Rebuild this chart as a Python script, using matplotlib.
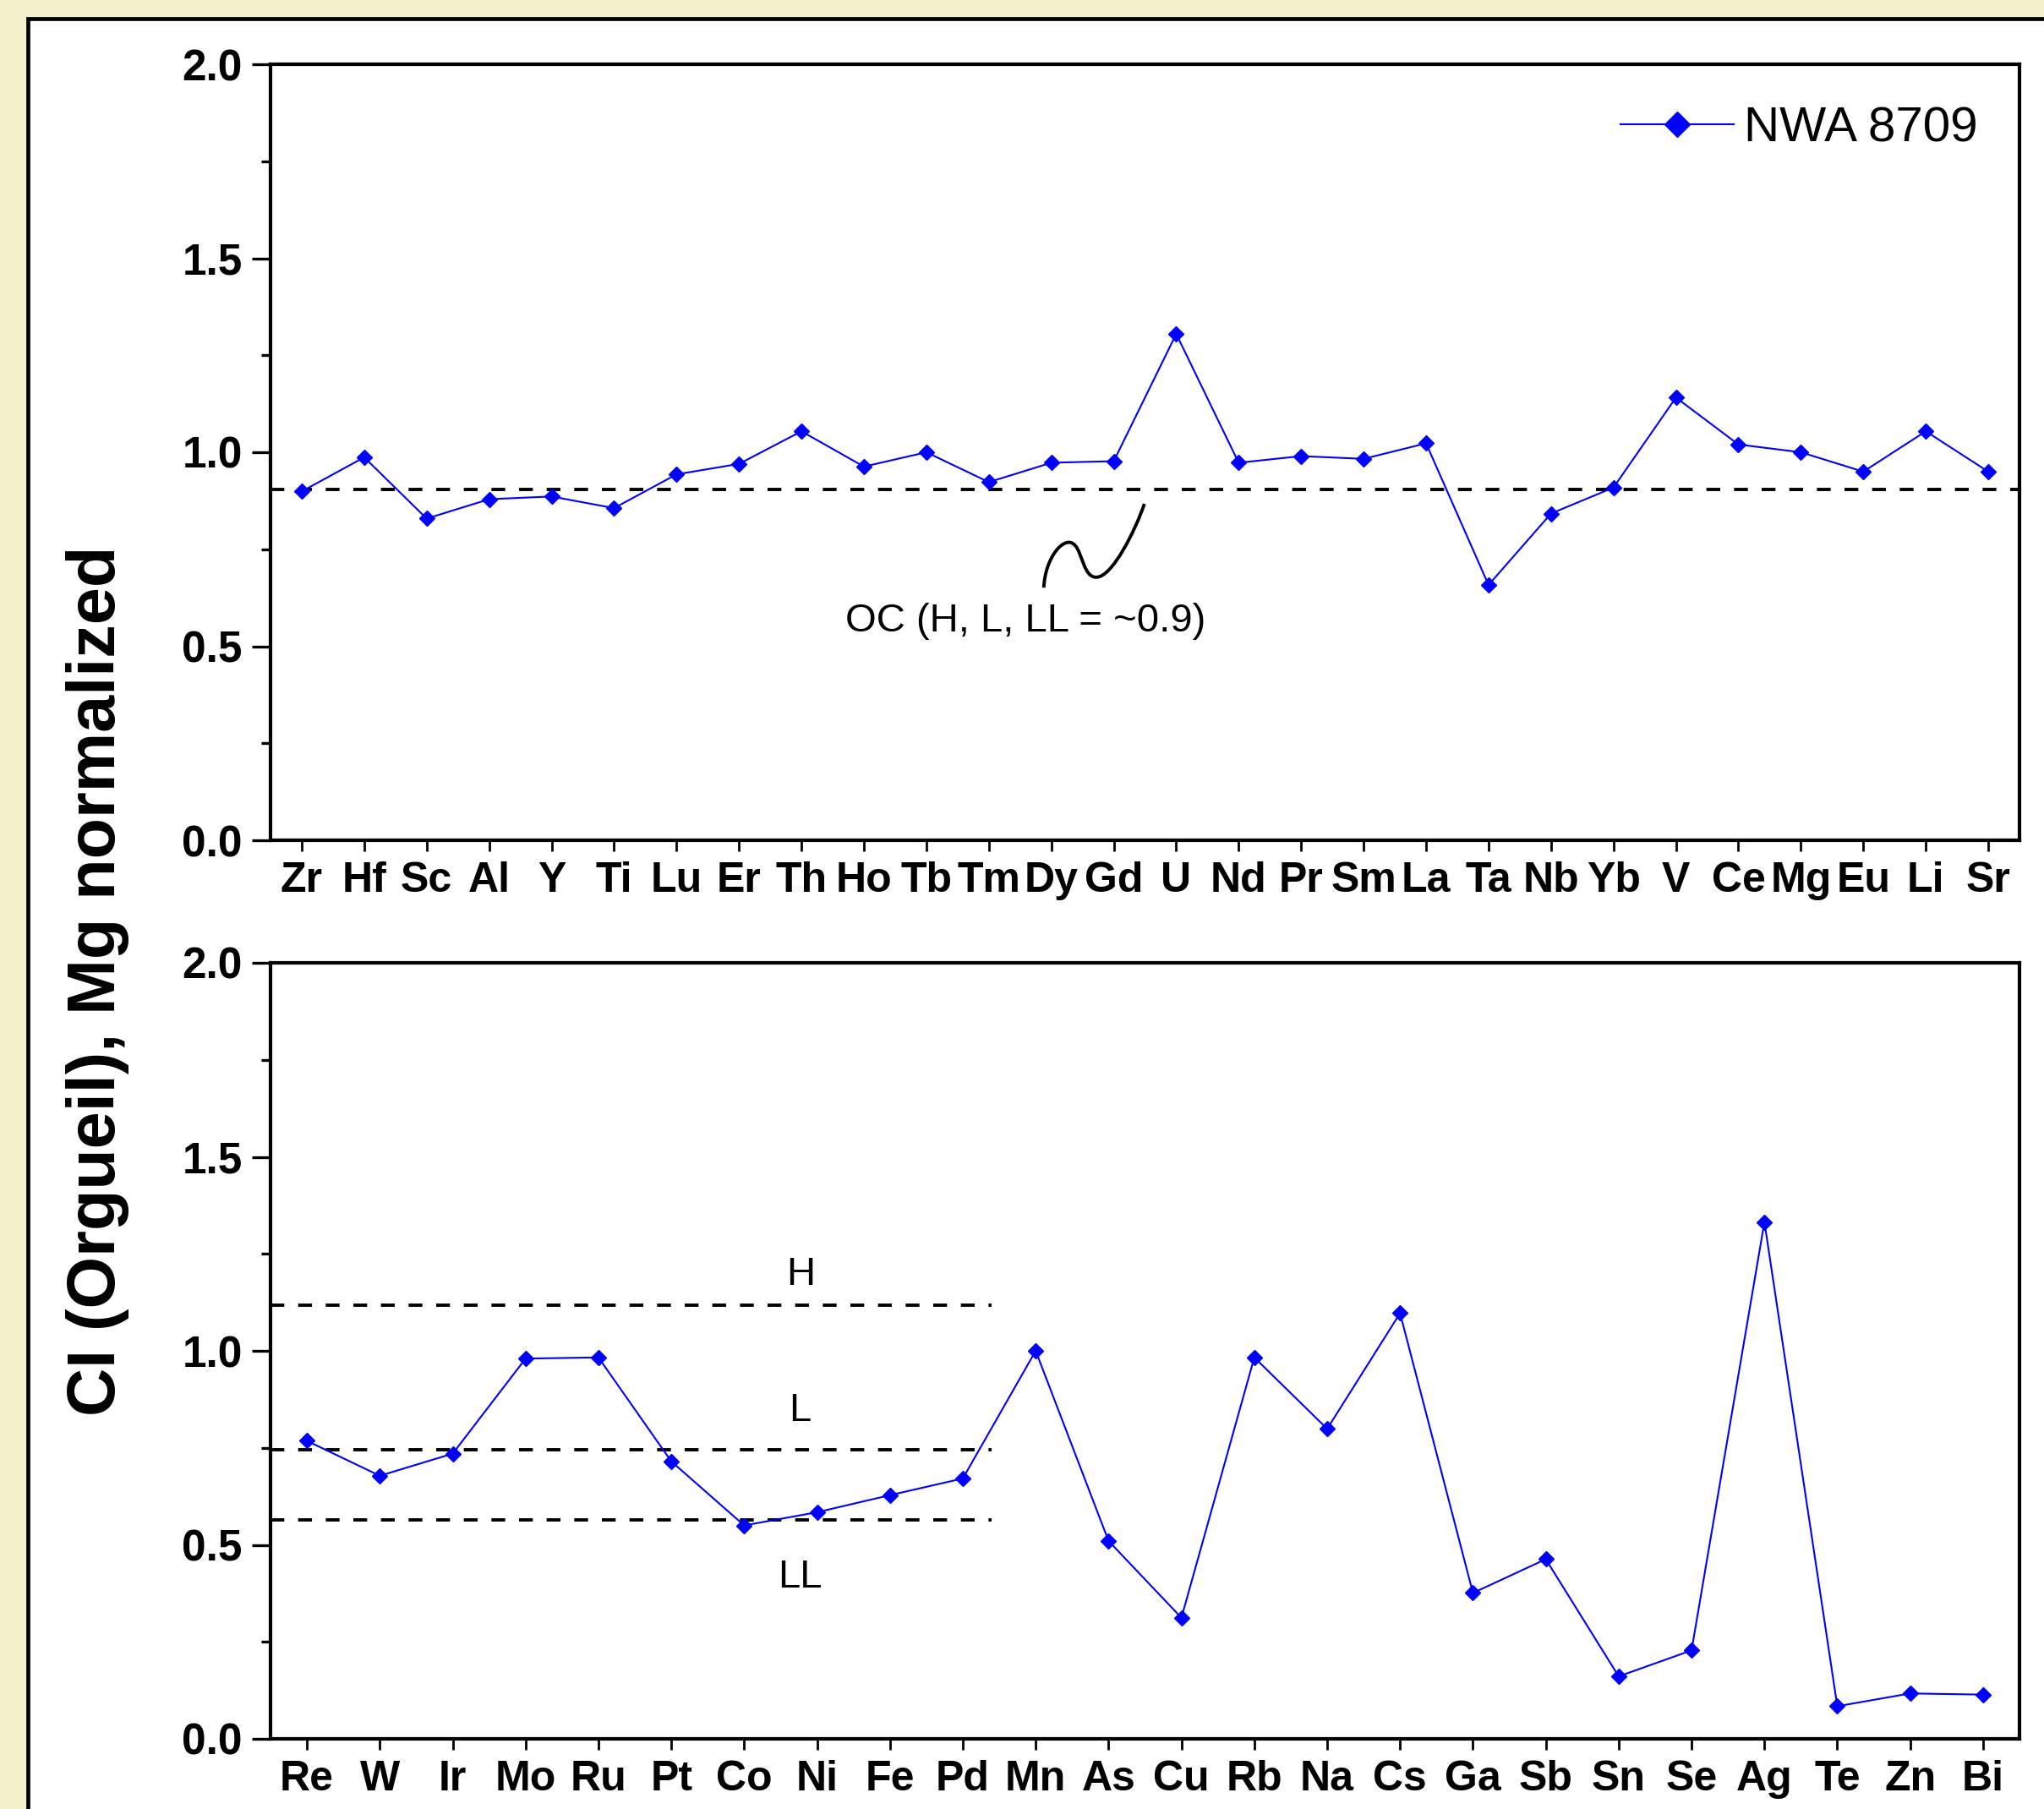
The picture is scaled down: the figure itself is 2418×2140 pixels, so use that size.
import matplotlib.pyplot as plt
from matplotlib.patches import Rectangle, PathPatch
from matplotlib.path import Path
import numpy as np

# top panel: lithophile / refractory elements
top_elems = ['Zr', 'Hf', 'Sc', 'Al', 'Y', 'Ti', 'Lu', 'Er', 'Th', 'Ho', 'Tb', 'Tm', 'Dy', 'Gd',
             'U', 'Nd', 'Pr', 'Sm', 'La', 'Ta', 'Nb', 'Yb', 'V', 'Ce', 'Mg', 'Eu', 'Li', 'Sr']
top_vals = [0.899, 0.987, 0.829, 0.879, 0.886, 0.856, 0.943, 0.970, 1.054, 0.963, 1.000, 0.923,
            0.973, 0.977, 1.305, 0.973, 0.990, 0.983, 1.023, 0.658, 0.842, 0.909, 1.141, 1.020,
            1.000, 0.950, 1.054, 0.950]
oc_level = 0.905

# bottom panel: siderophile / volatile elements
bot_elems = ['Re', 'W', 'Ir', 'Mo', 'Ru', 'Pt', 'Co', 'Ni', 'Fe', 'Pd', 'Mn', 'As', 'Cu', 'Rb',
             'Na', 'Cs', 'Ga', 'Sb', 'Sn', 'Se', 'Ag', 'Te', 'Zn', 'Bi']
bot_vals = [0.768, 0.678, 0.735, 0.980, 0.983, 0.715, 0.550, 0.584, 0.628, 0.671, 1.000, 0.510,
            0.312, 0.983, 0.799, 1.097, 0.376, 0.463, 0.161, 0.228, 1.332, 0.084, 0.117, 0.114]
ref_names = ['H', 'L', 'LL']
ref_levels = [1.117, 0.745, 0.564]

sample = 'NWA 8709'
ylabel = 'CI (Orgueil), Mg normalized'

W, H = 2418, 2140
fig = plt.figure(figsize=(W / 100, H / 100), dpi=100)
fig.patch.set_facecolor('#f3f1cb')

# white panel with black frame
frame = Rectangle((33 / W, -0.1), 1.2, 1.1 - 22 / H, transform=fig.transFigure,
                  facecolor='white', edgecolor='black', lw=3.4, zorder=-10)
fig.patches.append(frame)

ax1 = fig.add_axes([320 / W, 1 - 994 / H, (2389 - 320) / W, (994 - 76) / H])
ax2 = fig.add_axes([320 / W, 1 - 2057 / H, (2389 - 320) / W, (2057 - 1139) / H])

tick_font = ['Liberation Sans Narrow', 'Liberation Sans', 'DejaVu Sans']
txt_font = ['Liberation Sans', 'DejaVu Sans']


def style(ax, labels):
    ax.set_ylim(0, 2.0)
    ax.set_xlim(-0.5, len(labels) - 0.5)
    ax.set_yticks([0, 0.5, 1.0, 1.5, 2.0])
    ax.set_yticks(np.arange(0.25, 2.0, 0.5), minor=True)
    ax.set_yticklabels(['%.1f' % v for v in [0, 0.5, 1.0, 1.5, 2.0]],
                       family=txt_font, weight='bold', fontsize=37)
    ax.set_xticks(range(len(labels)))
    ax.set_xticklabels(labels, family=tick_font, weight='bold', fontsize=36)
    ax.tick_params(axis='y', which='major', length=16, width=2.4, direction='out', pad=8)
    ax.tick_params(axis='y', which='minor', length=8, width=2.4, direction='out')
    ax.tick_params(axis='x', which='major', length=9, width=2.0, direction='out', pad=9)
    for s in ax.spines.values():
        s.set_linewidth(3)
    ax.set_facecolor('white')


# top panel
ax1.plot(range(len(top_elems)), top_vals, color='#0000ff', lw=1.5, marker='D',
         markersize=9.5, label=sample, zorder=3)
ax1.axhline(oc_level, color='black', lw=2.8, dashes=(4.2, 4.2), zorder=2)
style(ax1, top_elems)
leg = ax1.legend(loc='upper right', frameon=False, markerscale=1.65, handlelength=2.3,
                 prop={'family': txt_font, 'size': 42},
                 borderaxespad=0.45, handletextpad=0.2)

ax1.text(11.59, 0.564, 'OC (H, L, LL = ~0.9)', ha='center', va='center', fontsize=34,
         family=txt_font)
# squiggle pointing to the OC line
verts = [(11.88, 0.651), (11.90, 0.73), (12.22, 0.79), (12.38, 0.76),
         (12.50, 0.74), (12.52, 0.675), (12.73, 0.678),
         (12.98, 0.68), (13.35, 0.80), (13.49, 0.867)]
codes = [Path.MOVETO] + [Path.CURVE4] * 9
ax1.add_patch(PathPatch(Path(verts, codes), facecolor='none', edgecolor='black', lw=2.8))

# bottom panel
ax2.plot(range(len(bot_elems)), bot_vals, color='#0000ff', lw=1.5, marker='D',
         markersize=9.5, zorder=3)
for name, lev in zip(ref_names, ref_levels):
    ax2.plot([-0.5, 9.4], [lev, lev], color='black', lw=2.8, dashes=(4.2, 4.2), zorder=2)
ax2.text(6.77, 1.195, 'H', ha='center', va='center', fontsize=34, family=txt_font)
ax2.text(6.77, 0.846, 'L', ha='center', va='center', fontsize=34, family=txt_font)
ax2.text(6.77, 0.416, 'LL', ha='center', va='center', fontsize=34, family=txt_font)
style(ax2, bot_elems)

fig.text(116 / W, 1 - 1160 / H, ylabel, rotation=90, ha='center', va='center',
         fontsize=57, weight='bold', family=txt_font)

fig.savefig('out.png', dpi=100, facecolor=fig.get_facecolor())
